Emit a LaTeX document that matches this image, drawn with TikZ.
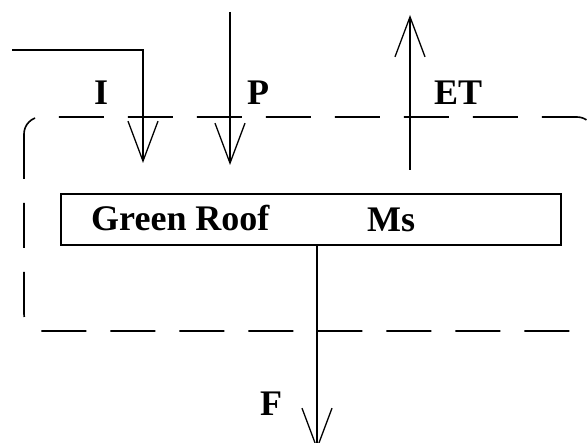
\documentclass[tikz,border=0pt]{standalone}
\usepackage{fontspec}
\setmainfont{Liberation Serif}
\usetikzlibrary{arrows.meta}

\begin{document}
\begin{tikzpicture}[x=1pt,y=-1pt,
  flow/.style={line width=1.6pt,-{Straight Barb[length=40pt,width=30pt,line width=1.3pt]}},
  lbl/.style={font=\fontsize{36}{40}\selectfont\bfseries,inner sep=0pt,anchor=base west}]
\useasboundingbox (0,0) rectangle (587,443);
\clip (0,0) rectangle (587,443);

% system boundary
\draw[line width=1.6pt,dash pattern=on 45pt off 24pt,rounded corners=17pt] (24,117) rectangle (594,331);

\node[draw,line width=1.6pt,minimum width=500pt,minimum height=51pt,inner sep=0pt] (roof) at (311,219.5) {};
\node[lbl] (gr) at (91,231) {Green Roof};
\node[lbl] (ms) at (367,232) {Ms};

\coordinate (iin) at (12,50);
\coordinate (iout) at (143,163);
\coordinate (pin) at (230,12);
\coordinate (pout) at (230,165);
\coordinate (etin) at (410,170);
\coordinate (etout) at (410,15);
\coordinate (fout) at (317,450);

\draw[flow] (iin) -| (iout);
\draw[flow] (pin) -- (pout);
\draw[flow] (etin) -- (etout);
\draw[flow] (fout |- roof.south) -- (fout);

\node[lbl] (i) at (94,105) {I};
\node[lbl] (p) at (247,105) {P};
\node[lbl] (et) at (434,105) {ET};
\node[lbl] (f) at (260,416) {F};

\end{tikzpicture}
\end{document}
